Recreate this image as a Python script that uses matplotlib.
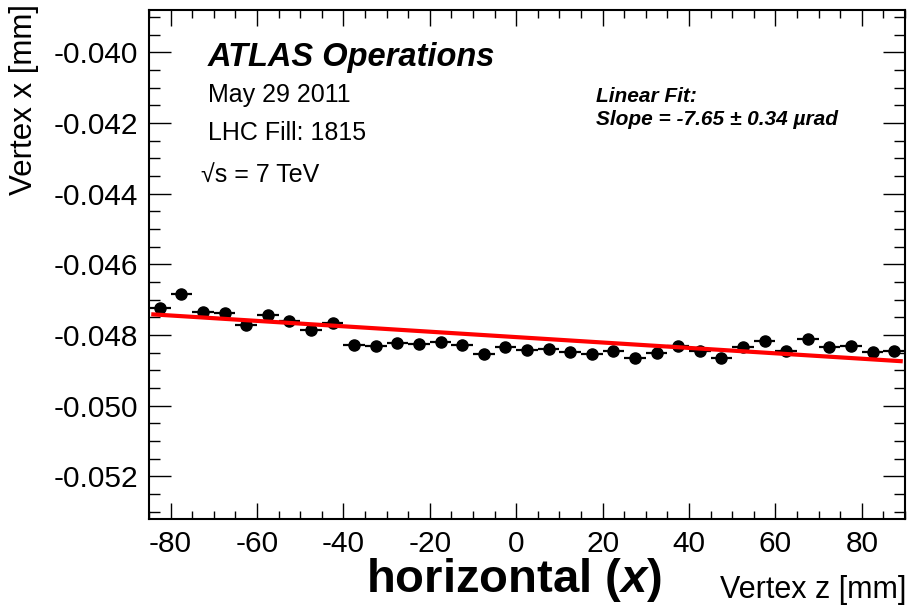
import numpy as np
import matplotlib
matplotlib.use('Agg')
import matplotlib.pyplot as plt
from matplotlib.ticker import MultipleLocator, FormatStrFormatter

plt.rcParams['font.family'] = ['Liberation Sans', 'DejaVu Sans']
plt.rcParams['axes.unicode_minus'] = False
plt.rcParams['mathtext.fontset'] = 'custom'
plt.rcParams['mathtext.bfit'] = 'Liberation Sans:italic:bold'

# beam spot x position per 5 mm slice of vertex z
zBins = [-82.5, -77.5, -72.5, -67.5, -62.5, -57.5, -52.5, -47.5, -42.5, -37.5,
         -32.5, -27.5, -22.5, -17.5, -12.5, -7.5, -2.5, 2.5, 7.5, 12.5,
         17.5, 22.5, 27.5, 32.5, 37.5, 42.5, 47.5, 52.5, 57.5, 62.5,
         67.5, 72.5, 77.5, 82.5, 87.5]
vertexX = [-0.04723, -0.04685, -0.04735, -0.04737, -0.04771, -0.04743, -0.04761,
           -0.04787, -0.04765, -0.04827, -0.04830, -0.04823, -0.04825, -0.04821,
           -0.04827, -0.04855, -0.04835, -0.04842, -0.04840, -0.04847, -0.04855,
           -0.04844, -0.04865, -0.04850, -0.04830, -0.04844, -0.04865, -0.04833,
           -0.04818, -0.04844, -0.04811, -0.04833, -0.04832, -0.04847, -0.04844]
binHalfWidth = 2.5

# linear fit result
slopeMicroRad = -7.65
slopeErr = 0.34
intercept = -0.04806

fig = plt.figure(figsize=(9.08, 6.06), dpi=100)
ax = fig.add_axes([0.1641, 0.1441, 0.8326, 0.8394])

ax.errorbar(zBins, vertexX, xerr=binHalfWidth, fmt='o', color='black',
            markersize=8, elinewidth=1.6, capsize=0, zorder=3)

fitZ = np.array([-84.0, 89.0])
ax.plot(fitZ, intercept + slopeMicroRad * 1e-6 * fitZ, color='red', lw=3, zorder=4)

ax.set_xlim(-85, 90)
ax.set_ylim(-0.0532, -0.0388)

ax.xaxis.set_major_locator(MultipleLocator(20))
ax.xaxis.set_minor_locator(MultipleLocator(5))
ax.yaxis.set_major_locator(MultipleLocator(0.002))
ax.yaxis.set_minor_locator(MultipleLocator(0.0005))
ax.yaxis.set_major_formatter(FormatStrFormatter('%.3f'))

ax.tick_params(axis='both', which='both', direction='in', top=True, right=True,
               width=1.0, labelsize=21.5)
ax.tick_params(axis='y', which='major', length=15.8, pad=8)
ax.tick_params(axis='y', which='minor', length=7.9)
ax.tick_params(axis='x', which='major', length=11.5, pad=8)
ax.tick_params(axis='x', which='minor', length=5.8)
for s in ax.spines.values():
    s.set_linewidth(1.5)

fig.text(0.026, 0.993, 'Vertex x [mm]', rotation=90, ha='center', va='top', fontsize=22.5)
fig.text(0.998, 0.0125, 'Vertex z [mm]', ha='right', va='baseline', fontsize=22)
fig.text(0.566, 0.0225, r'horizontal ($\mathbfit{x}$)', ha='center', va='baseline',
         fontsize=34, fontweight='bold')

ax.text(0.078, 0.8897, 'ATLAS Operations', transform=ax.transAxes, fontsize=23.5,
        fontweight='bold', fontstyle='italic', va='baseline')
ax.text(0.078, 0.8190, 'May 29 2011', transform=ax.transAxes, fontsize=18, va='baseline')
ax.text(0.078, 0.7442, 'LHC Fill: 1815', transform=ax.transAxes, fontsize=18, va='baseline')
ax.text(0.069, 0.6625, '\u221as = 7 TeV', transform=ax.transAxes, fontsize=18, va='baseline')

ax.text(0.591, 0.819, 'Linear Fit:', transform=ax.transAxes, fontsize=15,
        fontweight='bold', fontstyle='italic', va='baseline')
ax.text(0.591, 0.774, f'Slope = {slopeMicroRad:.2f} \u00b1 {slopeErr:.2f} \u00b5rad',
        transform=ax.transAxes, fontsize=15, fontweight='bold', fontstyle='italic',
        va='baseline')

fig.savefig('out.png', dpi=100)
